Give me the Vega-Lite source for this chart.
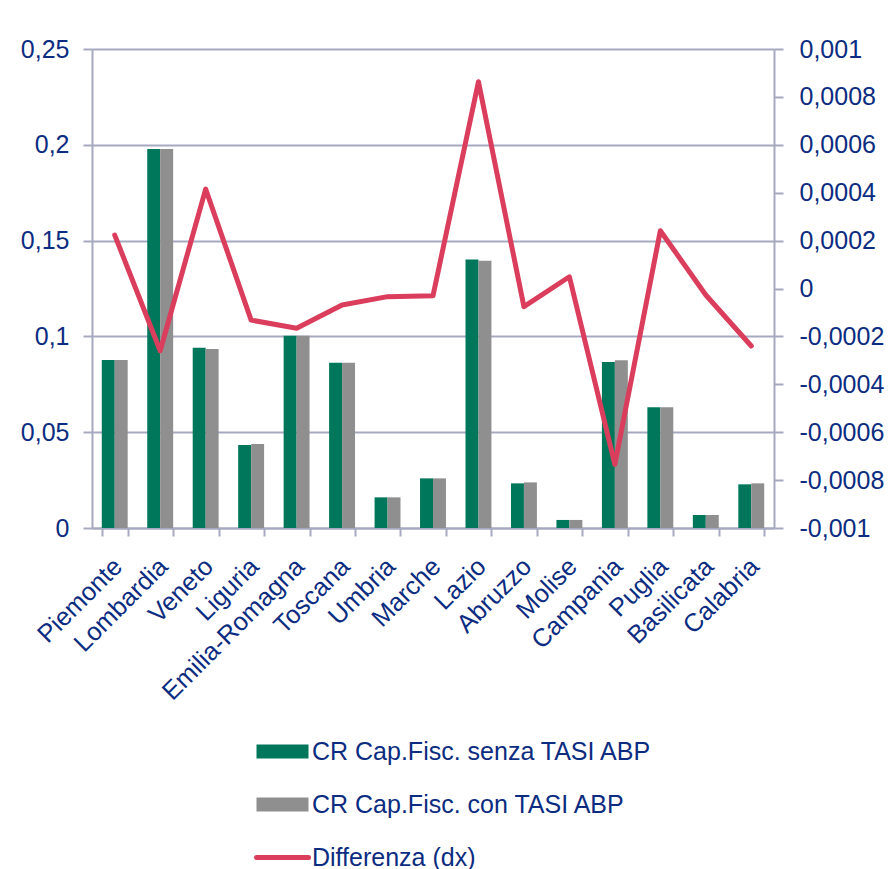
{
  "$schema": "https://vega.github.io/schema/vega-lite/v6.json",
  "width": 682,
  "height": 479,
  "autosize": {"type": "none"},
  "padding": {"left": 92, "top": 49, "right": 120, "bottom": 341},
  "background": "#FFFFFF",
  "config": {
    "font": "Liberation Sans",
    "view": {"stroke": null},
    "axis": {
      "labelColor": "#0B2C80",
      "labelFont": "Liberation Sans",
      "domainColor": "#A6A9BF",
      "domainWidth": 2,
      "tickColor": "#A6A9BF",
      "tickWidth": 2,
      "gridColor": "#A6A9BF",
      "gridWidth": 2,
      "title": null
    },
    "legend": {
      "labelColor": "#0B2C80",
      "labelFont": "Liberation Sans"
    }
  },
  "data": {
    "values": [
      {"regione": "Piemonte", "senza": 0.0877, "con": 0.0877, "diff": 0.000223},
      {"regione": "Lombardia", "senza": 0.1978, "con": 0.1978, "diff": -0.00026},
      {"regione": "Veneto", "senza": 0.0941, "con": 0.0934, "diff": 0.000415},
      {"regione": "Liguria", "senza": 0.0433, "con": 0.0438, "diff": -0.000132},
      {"regione": "Emilia-Romagna", "senza": 0.1004, "con": 0.1003, "diff": -0.000166},
      {"regione": "Toscana", "senza": 0.0863, "con": 0.0863, "diff": -0.000069},
      {"regione": "Umbria", "senza": 0.016, "con": 0.016, "diff": -0.000034},
      {"regione": "Marche", "senza": 0.0259, "con": 0.0259, "diff": -0.00003},
      {"regione": "Lazio", "senza": 0.1402, "con": 0.1395, "diff": 0.000863},
      {"regione": "Abruzzo", "senza": 0.0233, "con": 0.0238, "diff": -0.000076},
      {"regione": "Molise", "senza": 0.0042, "con": 0.0042, "diff": 0.000049},
      {"regione": "Campania", "senza": 0.0866, "con": 0.0875, "diff": -0.000734},
      {"regione": "Puglia", "senza": 0.063, "con": 0.063, "diff": 0.000241},
      {"regione": "Basilicata", "senza": 0.0068, "con": 0.0068, "diff": -0.000027},
      {"regione": "Calabria", "senza": 0.0228, "con": 0.0233, "diff": -0.00024}
    ]
  },
  "encoding": {
    "x": {
      "field": "regione",
      "type": "nominal",
      "sort": null,
      "scale": {"paddingInner": 0.43, "paddingOuter": 0.215},
      "axis": {
        "orient": "bottom",
        "labelAngle": -45,
        "labelAlign": "right",
        "labelBaseline": "middle",
        "labelFontSize": 25.5,
        "labelPadding": 26,
        "labelOffset": 3,
        "labelLimit": 400,
        "tickSize": 8,
        "tickBand": "extent",
        "labelOverlap": false
      }
    }
  },
  "layer": [
    {
      "transform": [{"fold": ["senza", "con"], "as": ["serie", "valore"]}],
      "mark": {"type": "bar"},
      "encoding": {
        "xOffset": {
          "field": "serie",
          "type": "nominal",
          "sort": ["senza", "con"],
          "scale": {"paddingInner": 0, "paddingOuter": 0}
        },
        "y": {
          "field": "valore",
          "type": "quantitative",
          "scale": {"domain": [0, 0.25], "nice": false},
          "axis": {
            "orient": "left",
            "values": [0, 0.05, 0.1, 0.15, 0.2, 0.25],
            "labelExpr": "replace(replace(format(datum.value, '~g'), '.', ','), '\u2212', '-')",
            "labelFontSize": 25,
            "labelPadding": 14,
            "tickSize": 9,
            "grid": true
          }
        },
        "color": {
          "field": "serie",
          "type": "nominal",
          "scale": {
            "domain": ["senza", "con", "diff"],
            "range": ["#00775A", "#8F8F8F", "#DB3D5C"]
          },
          "legend": {
            "title": null,
            "orient": "none",
            "direction": "vertical",
            "legendX": 178,
            "legendY": 690,
            "padding": 0,
            "rowPadding": 27,
            "symbolSize": 2704,
            "labelFontSize": 25,
            "labelOffset": 17,
            "labelLimit": 500,
            "labelExpr": "datum.value === 'senza' ? 'CR Cap.Fisc. senza TASI ABP' : (datum.value === 'con' ? 'CR Cap.Fisc. con TASI ABP' : 'Differenza (dx)')",
            "encode": {
              "symbols": {
                "update": {
                  "shape": {"signal": "datum.value === 'diff' ? 'M-1,0H1' : 'M-1,-0.27H1V0.27H-1Z'"},
                  "fill": {"signal": "datum.value === 'senza' ? '#00775A' : (datum.value === 'con' ? '#8F8F8F' : 'transparent')"},
                  "stroke": {"signal": "datum.value === 'diff' ? '#DB3D5C' : 'transparent'"},
                  "strokeWidth": {"signal": "datum.value === 'diff' ? 5 : 0"},
                  "strokeCap": {"value": "round"},
                  "opacity": {"value": 1}
                }
              }
            }
          }
        }
      }
    },
    {
      "mark": {"type": "line", "strokeWidth": 5, "strokeJoin": "round", "strokeCap": "round"},
      "encoding": {
        "y": {
          "field": "diff",
          "type": "quantitative",
          "scale": {"domain": [-0.001, 0.001], "nice": false},
          "axis": {
            "orient": "right",
            "values": [-0.001, -0.0008, -0.0006, -0.0004, -0.0002, 0, 0.0002, 0.0004, 0.0006, 0.0008, 0.001],
            "labelExpr": "replace(replace(format(datum.value, '~g'), '.', ','), '\u2212', '-')",
            "labelFontSize": 25,
            "labelPadding": 16,
            "tickSize": 9,
            "grid": false
          }
        },
        "color": {"datum": "diff", "type": "nominal"}
      }
    }
  ],
  "resolve": {"scale": {"y": "independent"}, "axis": {"y": "independent"}}
}
